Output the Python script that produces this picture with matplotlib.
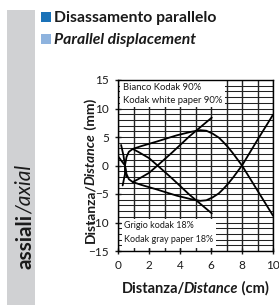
import matplotlib
matplotlib.use("Agg")
import matplotlib.pyplot as plt
from matplotlib.patches import Rectangle

# data (cm, mm)
hump_x = [0.45, 0.55, 0.7, 0.95, 1.5, 2.5, 3.2, 3.8, 4.7, 5.3, 5.7, 6.1, 6.5, 6.8, 7.1, 7.4, 7.7, 8.0, 9.0, 10.0]
hump_y = [0.0, 1.5, 2.4, 2.9, 3.4, 4.2, 4.8, 5.3, 5.9, 6.2, 6.1, 5.6, 4.9, 4.1, 3.2, 2.2, 1.1, 0.0, -4.4, -8.8]
u_x = [0.45, 0.55, 0.7, 0.95, 1.5, 2.5, 3.2, 3.8, 4.7, 5.3, 5.7, 6.1, 6.5, 6.8, 7.1, 7.4, 7.7, 8.0, 9.0, 10.0]
u_y = [0.0, -1.5, -2.4, -2.9, -3.4, -4.2, -4.8, -5.3, -5.9, -6.2, -6.1, -5.6, -4.9, -4.1, -3.2, -2.2, -1.1, 0.0, 4.5, 8.9]
desc_x = [0.95, 1.3, 2.0, 2.55, 3.5, 4.6, 6.05]
desc_y = [2.9, 2.4, 1.3, 0.0, -2.3, -5.1, -8.4]
asc_x = [0.95, 1.3, 2.0, 2.55, 3.5, 4.6, 6.05]
asc_y = [-2.9, -2.4, -1.3, 0.0, 2.3, 5.1, 8.4]
s1_x = [0.2, 0.35, 0.45, 0.5, 0.55]
s1_y = [3.6, 1.8, 0.0, -1.2, -2.0]
s2_x = [-0.05, 0.2, 0.45, 0.45, 0.3]
s2_y = [1.8, 0.9, 0.0, -1.5, -3.5]

white_labels = ["Bianco Kodak 90%", "Kodak white paper 90%"]
gray_labels = ["Grigio kodak 18%", "Kodak gray paper 18%"]
xticks = [0, 2, 4, 6, 8, 10]
yticks = [15, 10, 5, 0, -5, -10, -15]

FONT = "Lato"
INK = "#1a1a1a"
plt.rcParams['font.family'] = [FONT, 'DejaVu Sans']

W, H = 279, 305
fig = plt.figure(figsize=(W / 100, H / 100), dpi=100)
ax = fig.add_axes([118 / W, 1 - 251 / H, 155 / W, 171 / H])

# grey side band
fig.patches.append(Rectangle((7 / W, 0), 28 / W, 1 - 10 / H, transform=fig.transFigure,
                             facecolor="#d0d1d3", edgecolor="none", zorder=0))
# blue squares
fig.patches.append(Rectangle((41 / W, 1 - 22 / H), 10 / W, 10 / H, transform=fig.transFigure,
                             facecolor="#1a72b8", edgecolor="none"))
fig.patches.append(Rectangle((41 / W, 1 - 44 / H), 10 / W, 10 / H, transform=fig.transFigure,
                             facecolor="#8eb3de", edgecolor="none"))

fig.text(54 / W, 1 - 22 / H, "Disassamento parallelo", fontsize=11.3, fontweight="bold",
         color=INK, ha="left", va="baseline")
fig.text(54 / W, 1 - 44 / H, "Parallel displacement", fontsize=11.3, fontweight="bold",
         style="italic", color=INK, ha="left", va="baseline")

# grid
for v in range(0, 11):
    ax.axvline(v, color="#222222", lw=1.0, zorder=1)
for h in range(-15, 16):
    ax.axhline(h, color="#222222", lw=0.75, zorder=1)

# white label boxes
ax.add_patch(Rectangle((0.12, 10.3), 6.8, 4.7, facecolor="white", edgecolor="none", zorder=2))
ax.add_patch(Rectangle((0.25, -14.5), 6.1, 5.2, facecolor="white", edgecolor="none", zorder=2))
ax.text(0.3, 13.3, white_labels[0], fontsize=6.8, color=INK, zorder=3)
ax.text(0.3, 10.9, white_labels[1], fontsize=6.8, color=INK, zorder=3)
ax.text(0.4, -11.0, gray_labels[0], fontsize=6.5, color=INK, zorder=3)
ax.text(0.4, -13.5, gray_labels[1], fontsize=6.5, color=INK, zorder=3)

for xs, ys in [(hump_x, hump_y), (u_x, u_y), (desc_x, desc_y), (asc_x, asc_y),
               (s1_x, s1_y), (s2_x, s2_y)]:
    ax.plot(xs, ys, color="black", lw=1.3, zorder=4, solid_capstyle="round")

ax.set_xlim(0, 10)
ax.set_ylim(-15, 15)
ax.set_xticks(xticks)
ax.set_yticks(yticks)
ax.tick_params(direction="inout", length=5, width=1, labelsize=8.5, colors=INK, pad=4)
for s in ax.spines.values():
    s.set_linewidth(1.0)
    s.set_color("black")

# mixed-style labels, placed piece by piece
renderer = fig.canvas.get_renderer()


def rich(x, y, parts, rotation=0, size=10, kern=-2.0):
    # measure each piece unrotated, then lay them out along the text direction
    lens = []
    for s, props in parts:
        tmp = fig.text(0, 0, s, fontsize=size, **props)
        w = tmp.get_window_extent(renderer).width
        tmp.remove()
        if s.endswith("/"):
            w += kern
        lens.append(w)
    pos = -sum(lens) / 2
    for (s, props), L in zip(parts, lens):
        if rotation:
            px, py = x, y + pos / H
        else:
            px, py = x + pos / W, y
        fig.text(px, py, s, rotation=rotation, rotation_mode="anchor", ha="left",
                 va="baseline", fontsize=size, color=INK, **props)
        pos += L


rich(195 / W, 1 - 293 / H, [("Distanza/", dict(fontweight="bold")),
                            ("Distance", dict(fontweight="bold", style="italic")),
                            (" (cm)", dict(fontweight="bold"))], size=10.5)
rich(94.5 / W, 1 - 171 / H, [("Distanza/", dict(fontweight="bold")),
                             ("Distance", dict(fontweight="bold", style="italic")),
                             (" (mm)", dict(fontweight="bold"))], rotation=90, size=10)
rich(31 / W, 1 - 217 / H, [("assiali", dict(fontweight="bold")),
                           ("/axial", dict(style="italic"))],
     rotation=90, size=15, kern=0)

fig.savefig("out.png", dpi=100)
